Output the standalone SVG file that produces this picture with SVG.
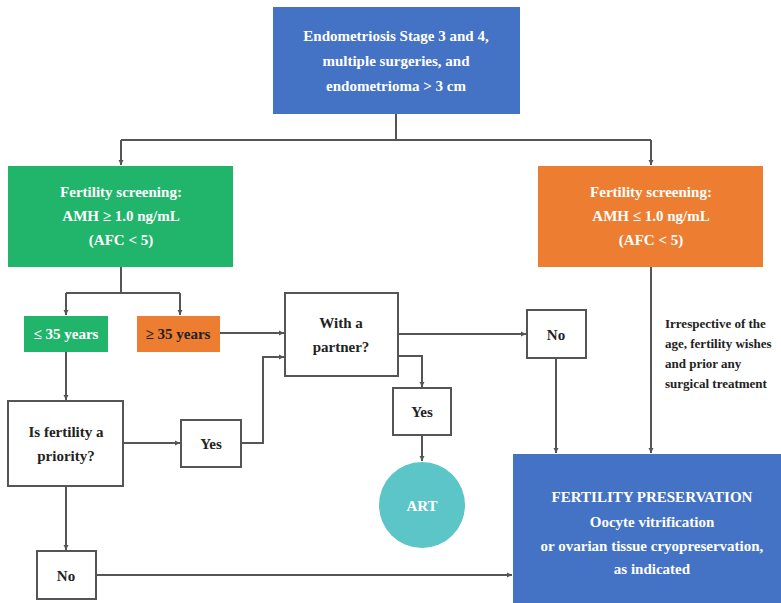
<svg xmlns="http://www.w3.org/2000/svg" width="781" height="603" viewBox="0 0 781 603">
<defs>
<marker id="ah" markerWidth="6" markerHeight="6" refX="5" refY="3" orient="auto" markerUnits="userSpaceOnUse">
<path d="M0,0.5 L5,3 L0,5.5 Z" fill="#555"/>
</marker>
<style>
.t{font-family:"Liberation Serif","Times New Roman",serif;font-weight:bold;text-anchor:middle}
.w{fill:#ffffff;font-size:15px}
.d{fill:#222;font-size:15px}
.box{fill:#fff;stroke:#555;stroke-width:2}
.c{fill:none;stroke:#555;stroke-width:2;marker-end:url(#ah)}
.n{fill:none;stroke:#555;stroke-width:2}
</style>
</defs>
<rect width="781" height="603" fill="#fff"/>
<g id="connectors">
<path class="n" d="M396,114 V140 M121,140 H651"/>
<path class="c" d="M121,140 V165"/>
<path class="c" d="M651,140 V165"/>
<path class="n" d="M121,267 V293 M66,293 H180"/>
<path class="c" d="M66,293 V315"/>
<path class="c" d="M180,293 V315"/>
<path class="c" d="M220,333 H284"/>
<path class="c" d="M398,334 H526"/>
<path class="c" d="M398,356 H422 V387"/>
<path class="c" d="M422,435 V461"/>
<path class="c" d="M66,352 V400"/>
<path class="c" d="M123,443 H180"/>
<path class="c" d="M241,443 H263 V357 H284"/>
<path class="c" d="M66,486 V550"/>
<path class="c" d="M96,575 H512"/>
<path class="c" d="M556,358 V453"/>
<path class="c" d="M651,267 V453"/>
</g>
<g id="top">
<rect x="273" y="7" width="247" height="107" fill="#4472C4"/>
<text class="t w" x="396" y="41">Endometriosis Stage 3 and 4,</text>
<text class="t w" x="396" y="66">multiple surgeries, and</text>
<text class="t w" x="396" y="91">endometrioma &gt; 3 cm</text>
</g>
<g id="green-screen">
<rect x="8" y="166" width="225" height="101" fill="#21B46B"/>
<text class="t w" x="121" y="197">Fertility screening:</text>
<text class="t w" x="121" y="221">AMH ≥ 1.0 ng/mL</text>
<text class="t w" x="121" y="245">(AFC &lt; 5)</text>
</g>
<g id="orange-screen">
<rect x="538" y="166" width="225" height="101" fill="#ED7D31"/>
<text class="t w" x="651" y="197">Fertility screening:</text>
<text class="t w" x="651" y="221">AMH ≤ 1.0 ng/mL</text>
<text class="t w" x="651" y="245">(AFC &lt; 5)</text>
</g>
<g id="le35">
<rect x="24" y="316" width="84" height="36" fill="#21B46B"/>
<text class="t w" x="66" y="339">≤ 35 years</text>
</g>
<g id="ge35">
<rect x="137" y="316" width="83" height="36" fill="#ED7D31"/>
<text class="t" x="178" y="339" style="fill:#222;font-size:15px">≥ 35 years</text>
</g>
<g id="partner">
<rect class="box" x="285" y="293" width="113" height="83"/>
<text class="t d" x="341" y="328">With a</text>
<text class="t d" x="341" y="352">partner?</text>
</g>
<g id="no-right">
<rect class="box" x="527" y="310" width="59" height="48"/>
<text class="t d" x="556" y="340">No</text>
</g>
<g id="yes-mid">
<rect class="box" x="393" y="388" width="58" height="47"/>
<text class="t d" x="422" y="417">Yes</text>
</g>
<g id="art">
<circle cx="422" cy="505" r="43" fill="#5BC5C8"/>
<text class="t w" x="422" y="511">ART</text>
</g>
<g id="priority">
<rect class="box" x="8" y="401" width="115" height="85"/>
<text class="t d" x="66" y="437">Is fertility a</text>
<text class="t d" x="66" y="461">priority?</text>
</g>
<g id="yes-left">
<rect class="box" x="181" y="420" width="60" height="47"/>
<text class="t d" x="211" y="449">Yes</text>
</g>
<g id="no-left">
<rect class="box" x="37" y="551" width="59" height="48"/>
<text class="t d" x="66" y="581">No</text>
</g>
<g id="note">
<text class="t" style="text-anchor:start;fill:#222;font-size:13px" x="665" y="328">Irrespective of the</text>
<text class="t" style="text-anchor:start;fill:#222;font-size:13px" x="665" y="348">age, fertility wishes</text>
<text class="t" style="text-anchor:start;fill:#222;font-size:13px" x="665" y="368">and prior any</text>
<text class="t" style="text-anchor:start;fill:#222;font-size:13px" x="665" y="388">surgical treatment</text>
</g>
<g id="preservation">
<rect x="513" y="454" width="268" height="149" fill="#4472C4"/>
<text class="t w" x="652" y="502">FERTILITY PRESERVATION</text>
<text class="t w" x="652" y="527">Oocyte vitrification</text>
<text class="t w" x="652" y="551">or ovarian tissue cryopreservation,</text>
<text class="t w" x="652" y="574">as indicated</text>
</g>
</svg>
